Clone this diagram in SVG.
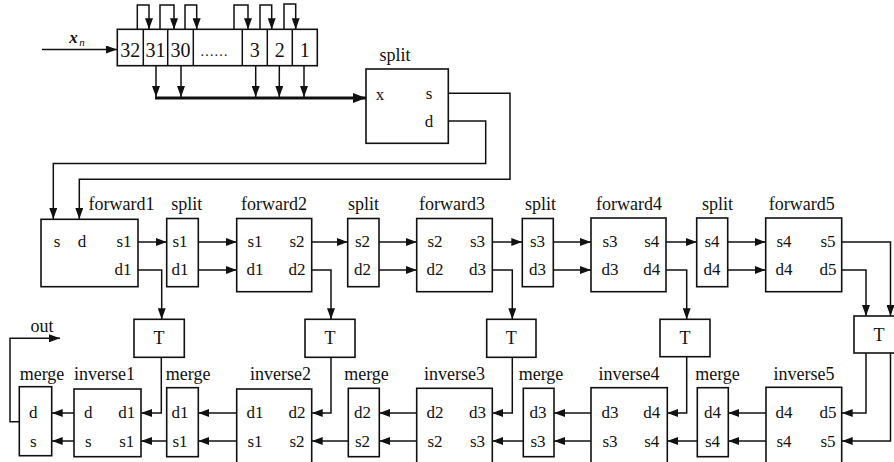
<svg xmlns="http://www.w3.org/2000/svg" width="894" height="462" viewBox="0 0 894 462" font-family="'Liberation Serif', 'DejaVu Serif', serif">
<defs>
<marker id="arr" markerUnits="userSpaceOnUse" markerWidth="11" markerHeight="8" refX="11" refY="4" orient="auto">
<path d="M0,0 L11,4 L0,8 z" fill="#111"/>
</marker>
<marker id="arrB" markerUnits="userSpaceOnUse" markerWidth="13" markerHeight="10" refX="13" refY="5" orient="auto">
<path d="M0,0 L13,5 L0,10 z" fill="#111"/>
</marker>
<style>
.bx{fill:#fff;stroke:#111;stroke-width:1.6}
.ln{fill:none;stroke:#111;stroke-width:1.5}
.a{marker-end:url(#arr)}
text{font-family:'Liberation Serif','DejaVu Serif',serif;fill:#111;text-anchor:middle}
.t{font-size:18px}
.l{font-size:17px}
.r{font-size:20px}
</style>
</defs>
<rect width="894" height="462" fill="#fff"/>

<g id="connectors">
<path class="ln a" d="M42,49.5 H117"/>
<path class="ln a" d="M137.3,29.3 V5 H149 V29.3"/>
<path class="ln a" d="M160,29.3 V5 H174 V29.3"/>
<path class="ln a" d="M185,29.3 V5 H196.7 V29.3"/>
<path class="ln a" d="M234,29.3 V5 H248 V29.3"/>
<path class="ln a" d="M260,29.3 V5 H271.7 V29.3"/>
<path class="ln a" d="M284,29.3 V4 H295.7 V29.3"/>
<path class="ln a" d="M156,65.7 V97"/>
<path class="ln a" d="M181,65.7 V97"/>
<path class="ln a" d="M255.7,65.7 V97"/>
<path class="ln a" d="M279.3,65.7 V97"/>
<path class="ln a" d="M304,65.7 V97"/>
<path fill="none" stroke="#111" stroke-width="3" marker-end="url(#arrB)" d="M155,98 H366"/>
<path class="ln a" d="M448.3,93.3 H510 V179.3 H79.3 V219"/>
<path class="ln a" d="M448.3,121 H485.7 V163.5 H53.3 V219"/>
<path class="ln a" d="M138,242 H166.7"/>
<path class="ln a" d="M138,270 H161.7 V319.3"/>
<path class="ln a" d="M198.3,242 H236.7"/>
<path class="ln a" d="M198.3,270 H236.7"/>
<path class="ln a" d="M311.7,242 H347.7"/>
<path class="ln a" d="M311.7,270 H331 V319.3"/>
<path class="ln a" d="M379,242 H416.7"/>
<path class="ln a" d="M379,270 H416.7"/>
<path class="ln a" d="M492.3,242 H522.3"/>
<path class="ln a" d="M492.3,270 H512.3 V319.3"/>
<path class="ln a" d="M553.3,242 H591"/>
<path class="ln a" d="M553.3,270 H591"/>
<path class="ln a" d="M666,242 H696.7"/>
<path class="ln a" d="M666,270 H686.7 V319.3"/>
<path class="ln a" d="M727.7,242 H765.7"/>
<path class="ln a" d="M727.7,270 H765.7"/>
<path class="ln a" d="M841.7,242 H890.5 V316"/>
<path class="ln a" d="M841.7,270 H866 V316"/>
<path class="ln a" d="M161.3,357.3 V413 H141"/>
<path class="ln a" d="M331,357.3 V413 H311.7"/>
<path class="ln a" d="M512.3,357.3 V413 H492.3"/>
<path class="ln a" d="M686.7,356.7 V413 H667.3"/>
<path class="ln a" d="M866,353 V413 H841.7"/>
<path class="ln a" d="M890.5,353 V441 H841.7"/>
<path class="ln a" d="M766,413 H728.3"/>
<path class="ln a" d="M766,441 H728.3"/>
<path class="ln a" d="M697.3,441 H667.3"/>
<path class="ln a" d="M591,413 H554"/>
<path class="ln a" d="M591,441 H554"/>
<path class="ln a" d="M523.3,441 H492.3"/>
<path class="ln a" d="M416.7,413 H379.3"/>
<path class="ln a" d="M416.7,441 H379.3"/>
<path class="ln a" d="M348.3,441 H311.7"/>
<path class="ln a" d="M236.7,413 H198.3"/>
<path class="ln a" d="M236.7,441 H198.3"/>
<path class="ln a" d="M166.7,441 H141"/>
<path class="ln a" d="M74,413 H51.7"/>
<path class="ln a" d="M74,441 H51.7"/>
<path class="ln a" d="M19.3,421.7 H10 V338.3 H60"/>
</g>

<g id="xn-label">
<text x="73.5" y="43" font-size="17" font-weight="bold" font-style="italic">x</text>
<text x="82" y="46" font-size="11" font-style="italic">n</text>
</g>

<g id="register">
<rect class="bx" x="117.3" y="29.3" width="200" height="36.4"/>
<path class="ln" d="M143.3,29.3 V65.7 M167.7,29.3 V65.7 M193.3,29.3 V65.7 M242.3,29.3 V65.7 M267.3,29.3 V65.7 M292.3,29.3 V65.7"/>
<text class="r" x="130.3" y="56.5">32</text>
<text class="r" x="155.5" y="56.5">31</text>
<text class="r" x="180.5" y="56.5">30</text>
<text x="214" y="56" font-size="14">……</text>
<text class="r" x="254.8" y="56.5">3</text>
<text class="r" x="279.8" y="56.5">2</text>
<text class="r" x="304.8" y="56.5">1</text>
</g>

<g id="split0">
<rect class="bx" x="366" y="69" width="82.3" height="74.3"/>
<text class="t" x="395" y="61">split</text>
<text class="l" x="380" y="100">x</text>
<text class="l" x="429" y="99">s</text>
<text class="l" x="429" y="126.7">d</text>
</g>

<g id="forward1">
<rect class="bx" x="41" y="219.3" width="97" height="67.4"/>
<text class="t" x="121.5" y="210">forward1</text>
<text class="l" x="57" y="247">s</text>
<text class="l" x="82" y="247">d</text>
<text class="l" x="124" y="247">s1</text>
<text class="l" x="123" y="275">d1</text>
</g>
<g id="split1">
<rect class="bx" x="166.7" y="218.5" width="31.6" height="68.2"/>
<text class="t" x="186.7" y="210">split</text>
<text class="l" x="180" y="247">s1</text>
<text class="l" x="180" y="275">d1</text>
</g>
<g id="forward2">
<rect class="bx" x="236.7" y="218.5" width="75" height="73.2"/>
<text class="t" x="274" y="210">forward2</text>
<text class="l" x="255" y="247">s1</text>
<text class="l" x="297" y="247">s2</text>
<text class="l" x="255" y="275">d1</text>
<text class="l" x="297" y="275">d2</text>
</g>
<g id="split2">
<rect class="bx" x="347.7" y="218.5" width="31.3" height="68.2"/>
<text class="t" x="363.5" y="210">split</text>
<text class="l" x="362.5" y="247">s2</text>
<text class="l" x="362.5" y="275">d2</text>
</g>
<g id="forward3">
<rect class="bx" x="416.7" y="218.5" width="75.6" height="73.2"/>
<text class="t" x="452" y="210">forward3</text>
<text class="l" x="435" y="247">s2</text>
<text class="l" x="477.5" y="247">s3</text>
<text class="l" x="435" y="275">d2</text>
<text class="l" x="477.5" y="275">d3</text>
</g>
<g id="split3">
<rect class="bx" x="522.3" y="218.5" width="31" height="68.2"/>
<text class="t" x="540.5" y="210">split</text>
<text class="l" x="537.5" y="247">s3</text>
<text class="l" x="537.5" y="275">d3</text>
</g>
<g id="forward4">
<rect class="bx" x="591" y="218" width="75" height="73.7"/>
<text class="t" x="629" y="210">forward4</text>
<text class="l" x="610" y="247">s3</text>
<text class="l" x="651.7" y="247">s4</text>
<text class="l" x="610" y="275">d3</text>
<text class="l" x="651.7" y="275">d4</text>
</g>
<g id="split4">
<rect class="bx" x="696.7" y="218" width="31" height="68.7"/>
<text class="t" x="717.5" y="210">split</text>
<text class="l" x="712" y="247">s4</text>
<text class="l" x="712" y="275">d4</text>
</g>
<g id="forward5">
<rect class="bx" x="765.7" y="218" width="76" height="73.7"/>
<text class="t" x="801.7" y="210">forward5</text>
<text class="l" x="784" y="247">s4</text>
<text class="l" x="828" y="247">s5</text>
<text class="l" x="784" y="275">d4</text>
<text class="l" x="828" y="275">d5</text>
</g>

<g id="T1"><rect class="bx" x="134" y="319.3" width="50.3" height="38"/><text class="t" x="159" y="344">T</text></g>
<g id="T2"><rect class="bx" x="305" y="319.3" width="50" height="38"/><text class="t" x="330" y="344">T</text></g>
<g id="T3"><rect class="bx" x="486.7" y="319.3" width="49.3" height="38"/><text class="t" x="511.3" y="344">T</text></g>
<g id="T4"><rect class="bx" x="660" y="319.3" width="50" height="37.4"/><text class="t" x="685" y="344">T</text></g>
<g id="T5"><rect class="bx" x="854" y="316" width="52" height="37"/><text class="t" x="879" y="340.5">T</text></g>

<g id="merge0">
<rect class="bx" x="19.3" y="386.7" width="32.4" height="69"/>
<text class="t" x="42" y="379.5">merge</text>
<text class="l" x="33.3" y="418.3">d</text>
<text class="l" x="33.3" y="446.5">s</text>
</g>
<g id="out-label"><text class="t" x="42" y="331.7">out</text></g>
<g id="inverse1">
<rect class="bx" x="74" y="389" width="67" height="67.7"/>
<text class="t" x="104.5" y="379.5">inverse1</text>
<text class="l" x="88.3" y="418.3">d</text>
<text class="l" x="126.7" y="418.3">d1</text>
<text class="l" x="88.3" y="446.5">s</text>
<text class="l" x="126.7" y="446.5">s1</text>
</g>
<g id="merge1">
<rect class="bx" x="166.7" y="387.7" width="31.6" height="69"/>
<text class="t" x="188.2" y="379.5">merge</text>
<text class="l" x="180" y="418.3">d1</text>
<text class="l" x="180" y="446.5">s1</text>
</g>
<g id="inverse2">
<rect class="bx" x="236.7" y="389" width="75" height="78"/>
<text class="t" x="280.5" y="379.5">inverse2</text>
<text class="l" x="255" y="418.3">d1</text>
<text class="l" x="297" y="418.3">d2</text>
<text class="l" x="255" y="446.5">s1</text>
<text class="l" x="297" y="446.5">s2</text>
</g>
<g id="merge2">
<rect class="bx" x="348.3" y="388.3" width="31" height="68.4"/>
<text class="t" x="366.5" y="379.5">merge</text>
<text class="l" x="362.5" y="418.3">d2</text>
<text class="l" x="362.5" y="446.5">s2</text>
</g>
<g id="inverse3">
<rect class="bx" x="416.7" y="388.3" width="75.6" height="78"/>
<text class="t" x="454.5" y="379.5">inverse3</text>
<text class="l" x="435" y="418.3">d2</text>
<text class="l" x="477.5" y="418.3">d3</text>
<text class="l" x="435" y="446.5">s2</text>
<text class="l" x="477.5" y="446.5">s3</text>
</g>
<g id="merge3">
<rect class="bx" x="523.3" y="388.3" width="30.7" height="68.4"/>
<text class="t" x="541" y="379.5">merge</text>
<text class="l" x="538" y="418.3">d3</text>
<text class="l" x="538" y="446.5">s3</text>
</g>
<g id="inverse4">
<rect class="bx" x="591" y="387.7" width="76.3" height="78"/>
<text class="t" x="629" y="379.5">inverse4</text>
<text class="l" x="610" y="418.3">d3</text>
<text class="l" x="651.7" y="418.3">d4</text>
<text class="l" x="610" y="446.5">s3</text>
<text class="l" x="651.7" y="446.5">s4</text>
</g>
<g id="merge4">
<rect class="bx" x="697.3" y="387.7" width="31" height="69"/>
<text class="t" x="717.5" y="379.5">merge</text>
<text class="l" x="712.5" y="418.3">d4</text>
<text class="l" x="712.5" y="446.5">s4</text>
</g>
<g id="inverse5">
<rect class="bx" x="766" y="387.3" width="75.7" height="78"/>
<text class="t" x="804" y="379.5">inverse5</text>
<text class="l" x="784" y="418.3">d4</text>
<text class="l" x="828" y="418.3">d5</text>
<text class="l" x="784" y="446.5">s4</text>
<text class="l" x="828" y="446.5">s5</text>
</g>
</svg>
